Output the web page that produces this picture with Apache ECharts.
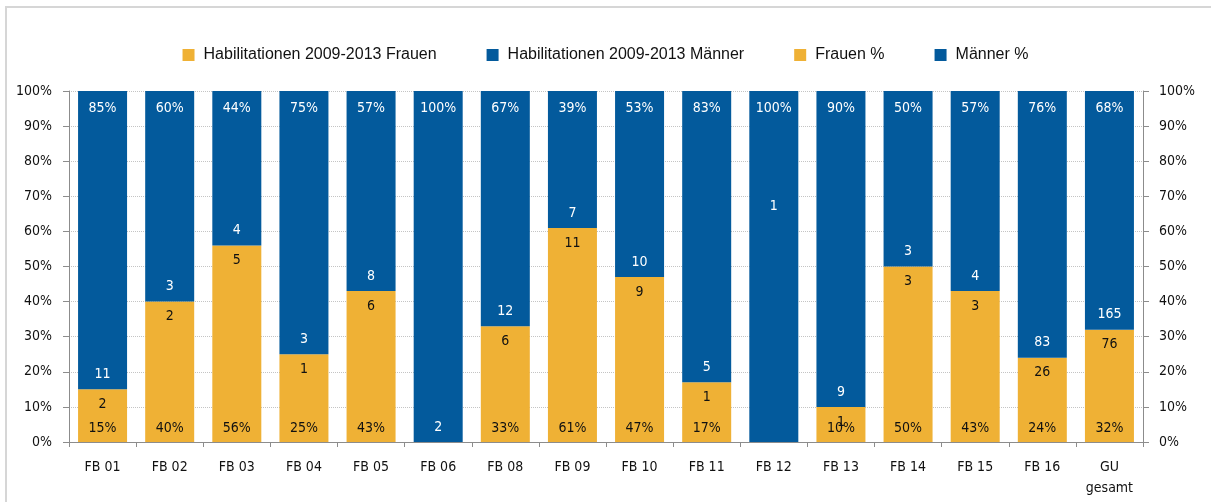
<!DOCTYPE html>
<html>
<head>
<meta charset="utf-8">
<script src="https://cdn.jsdelivr.net/npm/echarts@6/dist/echarts.min.js"></script>
<style>
    html, body { margin: 0; padding: 0; background: #fff; }
    #habil_chart { width: 1211px; height: 502px; }
</style>
</head>
<body>
<div id="habil_chart"></div>
<script>
// Fachbereiche
var categories = ['FB 01', 'FB 02', 'FB 03', 'FB 04', 'FB 05', 'FB 06', 'FB 08', 'FB 09',
    'FB 10', 'FB 11', 'FB 12', 'FB 13', 'FB 14', 'FB 15', 'FB 16', 'GU\ngesamt'];

// Habilitationen 2009-2013 (Anzahl)
var frauenAnzahl = [2, 2, 5, 1, 6, 0, 6, 11, 9, 1, 0, 1, 3, 3, 26, 76];
var maennerAnzahl = [11, 3, 4, 3, 8, 2, 12, 7, 10, 5, 1, 9, 3, 4, 83, 165];

// Anteile in %
var frauenPct = [15, 40, 56, 25, 43, 0, 33, 61, 47, 17, 0, 10, 50, 43, 24, 32];
var maennerPct = [85, 60, 44, 75, 57, 100, 67, 39, 53, 83, 100, 90, 50, 57, 76, 68];

var yTicks = [0, 10, 20, 30, 40, 50, 60, 70, 80, 90, 100];

var GELB = '#EFB135';
var BLAU = '#035A9C';
var LEER = 'rgba(0,0,0,0)';
var FONT = '"DejaVu Sans Condensed", "Liberation Sans Narrow", sans-serif';
var FS = 14;

function renderHabilChart() {
    var chart = echarts.init(document.getElementById('habil_chart'));

    // Label fuer FB 12 sitzt im Original weiter oben
    var maennerData = maennerPct.map(function (v, i) {
        if (frauenAnzahl[i] === 0 && maennerAnzahl[i] === 1) {
            return {value: v, label: {position: ['50%', '33%'], align: 'center', verticalAlign: 'middle'}};
        }
        return v;
    });

    var yAxisBase = {
        type: 'value',
        min: yTicks[0],
        max: yTicks[yTicks.length - 1],
        interval: 10,
        axisLine: {show: true, lineStyle: {color: '#8c8c8c'}},
        axisTick: {show: true, length: 6, lineStyle: {color: '#8c8c8c'}},
        axisLabel: {formatter: '{value}%', color: '#111', fontFamily: FONT, fontSize: FS}
    };

    function barLabel(pos, dist, color, fmt) {
        return {
            show: true,
            position: pos,
            distance: dist,
            color: color,
            fontFamily: FONT,
            fontSize: FS,
            formatter: fmt
        };
    }

    var options = {
        animation: false,
        textStyle: {fontFamily: FONT},
        graphic: [{
            type: 'rect',
            shape: {x: 6, y: 7, width: 1400, height: 700},
            style: {fill: 'none', stroke: '#d6d6d6', lineWidth: 2},
            silent: true
        }],
        legend: {
            top: 42,
            left: 'center',
            itemWidth: 12,
            itemHeight: 12,
            itemGap: 50,
            icon: 'rect',
            textStyle: {fontFamily: '"Liberation Sans", sans-serif', fontSize: 16, color: '#111', padding: [0, 0, 0, 4]},
            data: [
                {name: 'Habilitationen 2009-2013 Frauen', itemStyle: {color: GELB}},
                {name: 'Habilitationen 2009-2013 Männer', itemStyle: {color: BLAU}},
                {name: 'Frauen %', itemStyle: {color: GELB}},
                {name: 'Männer %', itemStyle: {color: BLAU}}
            ]
        },
        grid: {left: 69, right: 68, top: 91, bottom: 60},
        xAxis: {
            type: 'category',
            data: categories,
            axisLine: {lineStyle: {color: '#8c8c8c'}},
            axisTick: {show: true, length: 5, lineStyle: {color: '#8c8c8c'}},
            axisLabel: {interval: 0, color: '#111', fontFamily: FONT, fontSize: FS, margin: 15, lineHeight: 21}
        },
        yAxis: [
            echarts.util.merge({
                position: 'left',
                splitLine: {show: true, lineStyle: {color: '#c4c4c4', type: 'dotted'}},
                axisLabel: {margin: 17}
            }, yAxisBase, false),
            echarts.util.merge({
                position: 'right',
                splitLine: {show: false},
                axisLabel: {margin: 16}
            }, yAxisBase, false)
        ],
        series: [
            {
                name: 'Habilitationen 2009-2013 Frauen',
                type: 'bar',
                stack: 'anzahl',
                barWidth: 49,
                data: frauenPct,
                itemStyle: {color: GELB},
                label: barLabel('insideTop', 8, '#111', function (p) {
                    return frauenAnzahl[p.dataIndex] ? String(frauenAnzahl[p.dataIndex]) : '';
                })
            },
            {
                name: 'Habilitationen 2009-2013 Männer',
                type: 'bar',
                stack: 'anzahl',
                barWidth: 49,
                data: maennerData,
                itemStyle: {color: BLAU},
                label: barLabel('insideBottom', 8, '#fff', function (p) {
                    return maennerAnzahl[p.dataIndex] ? String(maennerAnzahl[p.dataIndex]) : '';
                })
            },
            {
                name: 'Frauen %',
                type: 'bar',
                stack: 'prozent',
                barWidth: 49,
                barGap: '-100%',
                data: frauenPct,
                itemStyle: {color: LEER},
                label: barLabel('insideBottom', 7, '#111', function (p) {
                    return p.value ? p.value + '%' : '';
                })
            },
            {
                name: 'Männer %',
                type: 'bar',
                stack: 'prozent',
                barWidth: 49,
                data: maennerPct,
                itemStyle: {color: LEER},
                label: barLabel('insideTop', 10, '#fff', function (p) {
                    return p.value ? p.value + '%' : '';
                })
            }
        ]
    };

    chart.setOption(options);
}

renderHabilChart();
</script>
</body>
</html>
